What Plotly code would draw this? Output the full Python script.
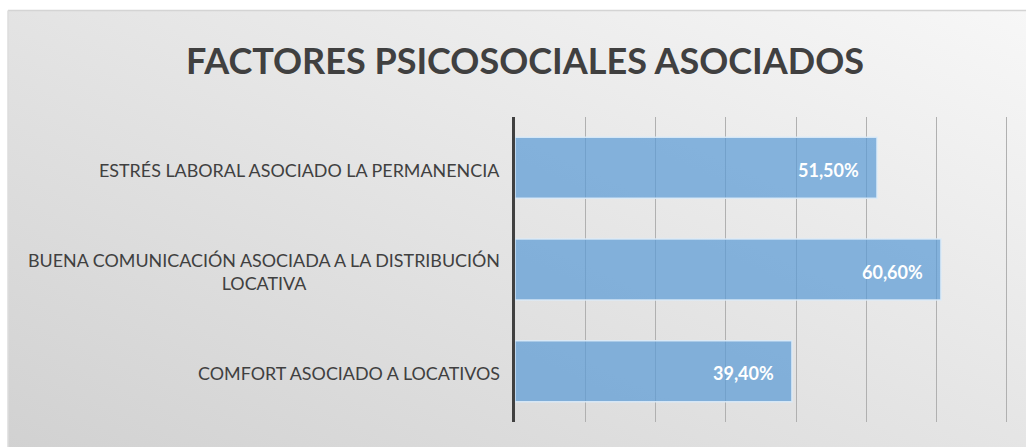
"""
Factores psicosociales asociados - horizontal bar chart.
"""

import plotly.graph_objects as go

CATEGORIES = [
    "COMFORT ASOCIADO A LOCATIVOS",
    "BUENA COMUNICACIÓN ASOCIADA A LA DISTRIBUCIÓN<br>LOCATIVA",
    "ESTRÉS LABORAL ASOCIADO LA PERMANENCIA",
]
VALUES = [0.394, 0.606, 0.515]
VALUE_LABELS = ["39,40%", "60,60%", "51,50%"]

TITLE = "FACTORES PSICOSOCIALES ASOCIADOS"
TEXT_COLOR = "#404040"
BAR_COLOR = "rgba(91,155,213,0.72)"

W, H = 1026, 447
L, R, T, B = 515, 12, 117, 25

# gray diagonal gradient like the office chart area
GRADIENT = (
    "data:image/svg+xml;utf8,"
    "<svg xmlns='http://www.w3.org/2000/svg' width='100' height='100' preserveAspectRatio='none'>"
    "<defs><linearGradient id='g' x1='1' y1='0' x2='0' y2='1'>"
    "<stop offset='0' stop-color='%23f7f7f7'/>"
    "<stop offset='1' stop-color='%23d0d0d0'/>"
    "</linearGradient></defs>"
    "<rect width='100' height='100' fill='url(%23g)'/></svg>"
)

pw = W - L - R
ph = H - T - B

fig = go.Figure()

fig.add_trace(
    go.Bar(
        y=CATEGORIES,
        x=VALUES,
        orientation="h",
        marker=dict(
            color=BAR_COLOR,
            line=dict(color="rgba(220,235,248,0.9)", width=1.5),
        ),
        width=0.6,
        hoverinfo="skip",
    )
)

# value labels, white bold, just inside the bar end
for cat, val, lab in zip(CATEGORIES, VALUES, VALUE_LABELS):
    fig.add_annotation(
        x=val,
        y=cat,
        xref="x",
        yref="y",
        text=lab,
        showarrow=False,
        xanchor="right",
        xshift=-16,
        yshift=-2,
        font=dict(family="Lato", size=18, color="white", weight="bold"),
    )

# category labels, centered lines, right edge left of axis
for cat in CATEGORIES:
    fig.add_annotation(
        x=0,
        y=cat,
        xref="paper",
        yref="y",
        text=cat,
        showarrow=False,
        xanchor="right",
        xshift=-13,
        yshift=-2,
        align="center",
        font=dict(family="Lato", size=17.9, color=TEXT_COLOR),
    )

fig.add_layout_image(
    dict(
        source=GRADIENT,
        xref="paper",
        yref="paper",
        x=(8 - L) / pw,
        y=(H - B - 11) / ph,
        sizex=(W - 8) / pw,
        sizey=(H - 11) / ph + 0.1,
        sizing="stretch",
        xanchor="left",
        yanchor="top",
        layer="below",
    )
)

# thin light border around the chart area
fig.add_shape(
    type="line",
    xref="paper",
    yref="paper",
    x0=(8 - L) / pw,
    x1=(W - L) / pw,
    y0=(H - B - 10.5) / ph,
    y1=(H - B - 10.5) / ph,
    line=dict(color="#d4d4d4", width=1.5),
)
fig.add_shape(
    type="line",
    xref="paper",
    yref="paper",
    x0=(8 - L) / pw,
    x1=(8 - L) / pw,
    y0=(H - B - 10.5) / ph,
    y1=-0.2,
    line=dict(color="#dcdcdc", width=1.5),
)

fig.update_layout(
    width=W,
    height=H,
    margin=dict(l=L, r=R, t=T, b=B, pad=0),
    paper_bgcolor="white",
    plot_bgcolor="rgba(0,0,0,0)",
    showlegend=False,
    title=dict(
        text=TITLE,
        x=525 / W,
        xanchor="center",
        y=1 - 61 / H,
        yanchor="middle",
        font=dict(family="Lato", size=36, color=TEXT_COLOR, weight="bold"),
    ),
    bargap=0.4,
)

fig.update_xaxes(
    range=[0, 0.71],
    dtick=0.1,
    showticklabels=False,
    showgrid=True,
    gridcolor="#b0b0b0",
    gridwidth=1,
    zeroline=False,
    showline=False,
    fixedrange=True,
)

fig.update_yaxes(
    showticklabels=False,
    showgrid=False,
    showline=True,
    linecolor="#404040",
    linewidth=2.5,
    zeroline=False,
    fixedrange=True,
)

fig.write_html(
    "out.html",
    config={"displayModeBar": False},
    post_script="document.body.style.margin='0';document.body.style.overflow='hidden';",
)
